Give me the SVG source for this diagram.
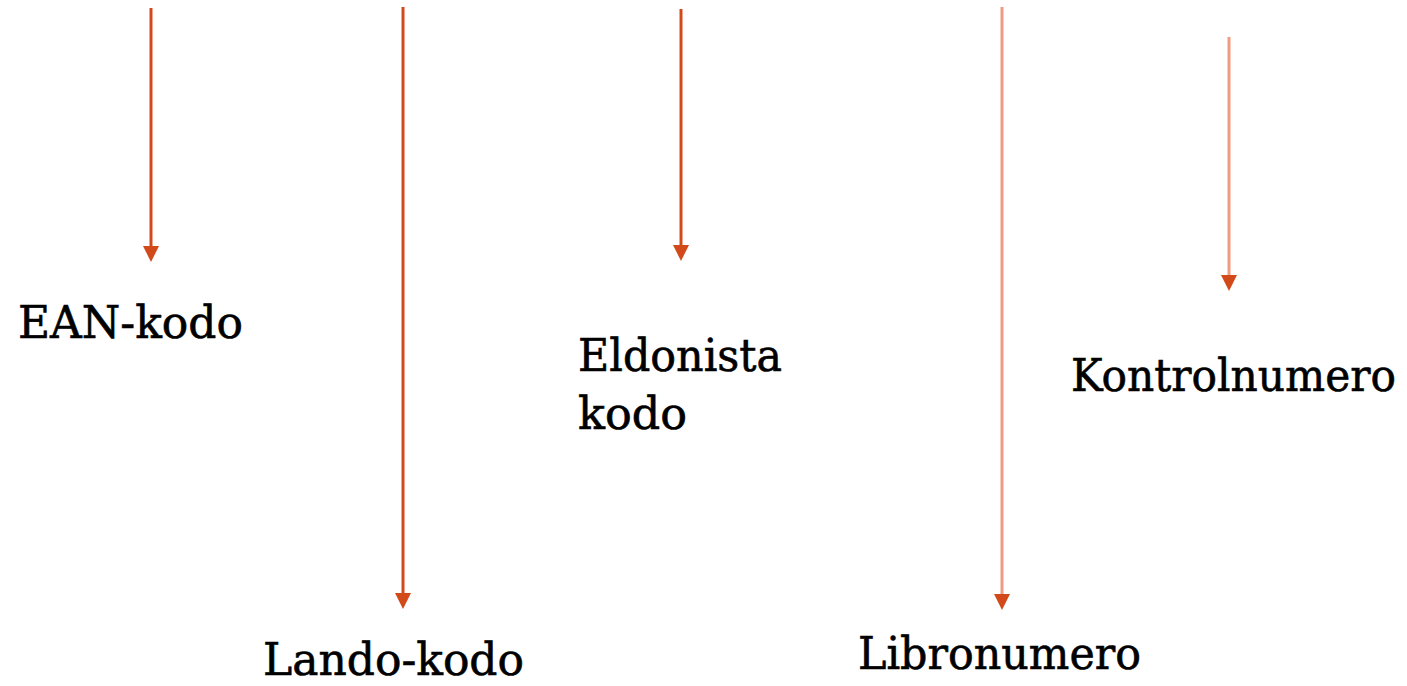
<svg xmlns="http://www.w3.org/2000/svg" width="1407" height="686" viewBox="0 0 1407 686">
<style>
.lbl{font-family:"DejaVu Serif","Liberation Serif",serif;font-size:44px;fill:#000;stroke:#000;stroke-width:0.6}
.dark{stroke:#D24A1A;stroke-width:3;fill:none}
.light{stroke:#EE9C80;stroke-width:3;fill:none}
.head{fill:#D24A1A}
</style>
<rect width="1407" height="686" fill="#fff"/>
<g id="connectors">
<line class="dark" x1="151" y1="8" x2="151" y2="250"/>
<path class="head" d="M143,246 L159,246 L151,262 Z"/>
<line class="dark" x1="403" y1="7" x2="403" y2="597"/>
<path class="head" d="M395,593 L411,593 L403,609 Z"/>
<line class="dark" x1="681" y1="9" x2="681" y2="249"/>
<path class="head" d="M673,245 L689,245 L681,261 Z"/>
<line class="light" x1="1002" y1="7" x2="1002" y2="598"/>
<path class="head" d="M994,594 L1010,594 L1002,610 Z"/>
<line class="light" x1="1229" y1="37" x2="1229" y2="279"/>
<path class="head" d="M1221,275 L1237,275 L1229,291 Z"/>
</g>
<g id="ean"><text class="lbl" x="18" y="338" textLength="225" lengthAdjust="spacingAndGlyphs">EAN-kodo</text></g>
<g id="lando"><text class="lbl" x="263" y="675" textLength="261" lengthAdjust="spacingAndGlyphs">Lando-kodo</text></g>
<g id="eldonista"><text class="lbl" x="578" y="371" textLength="204" lengthAdjust="spacingAndGlyphs">Eldonista</text><text class="lbl" x="578" y="429" textLength="109" lengthAdjust="spacingAndGlyphs">kodo</text></g>
<g id="libro"><text class="lbl" x="858" y="669" textLength="283" lengthAdjust="spacingAndGlyphs">Libronumero</text></g>
<g id="kontrol"><text class="lbl" x="1071" y="391" textLength="325" lengthAdjust="spacingAndGlyphs">Kontrolnumero</text></g>
</svg>
